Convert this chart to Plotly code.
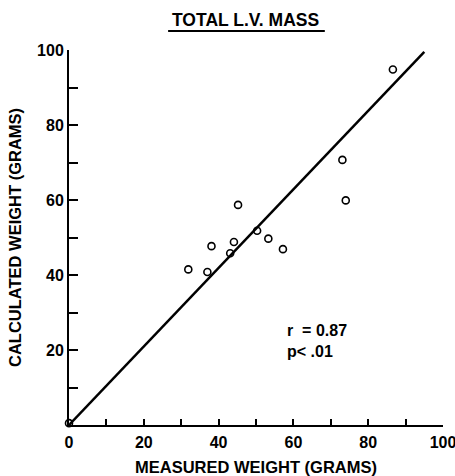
import plotly.graph_objects as go

# Data
measured = [0, 31.9, 37.0, 38.1, 43.1, 44.1, 45.2, 50.3, 53.3, 57.2, 73.1, 74.0, 86.6]
calculated = [0.5, 41.5, 40.8, 47.7, 45.8, 48.8, 58.7, 51.8, 49.7, 46.9, 70.7, 59.9, 94.8]
fit_x = [0, 95]
fit_y = [0, 99.5]
x_tick_vals = [0, 20, 40, 60, 80, 100]
y_tick_vals = [20, 40, 60, 80, 100]
minor_vals = [10, 30, 50, 70, 90]
title_text = "TOTAL L.V. MASS"
x_title = "MEASURED WEIGHT (GRAMS)"
y_title = "CALCULATED WEIGHT (GRAMS)"
stats_text = "r  = 0.87<br>p< .01"

FONT = "Arial, Liberation Sans, Helvetica, sans-serif"

fig = go.Figure()
fig.add_trace(go.Scatter(x=fit_x, y=fit_y, mode="lines",
                         line=dict(color="black", width=2.5),
                         hoverinfo="skip", cliponaxis=False))
fig.add_trace(go.Scatter(x=measured, y=calculated, mode="markers",
                         marker=dict(symbol="circle-open", size=7,
                                     color="black", line=dict(width=1.6)),
                         cliponaxis=False))

axis_common = dict(
    range=[0, 100],
    showgrid=False, zeroline=False,
    showline=True, linecolor="black", linewidth=2,
    ticks="inside", tickcolor="black", tickwidth=2,
    tickfont=dict(family=FONT, size=16, color="black", weight="bold"),
    fixedrange=True, automargin=False,
    ticklabeloverflow="allow",
)

fig.update_xaxes(**axis_common, ticklen=6,
                 tickvals=x_tick_vals + minor_vals,
                 ticktext=[str(v) for v in x_tick_vals] + [""] * len(minor_vals),
                 ticklabelstandoff=2,
                 title=dict(text="<b>" + x_title + "</b>", standoff=13,
                            font=dict(family=FONT, size=16.5, color="black")))
fig.update_yaxes(**axis_common, ticklen=9,
                 tickvals=y_tick_vals + minor_vals,
                 ticktext=[str(v) for v in y_tick_vals] + [""] * len(minor_vals),
                 title=dict(text="<b>" + y_title + "</b>", standoff=11,
                            font=dict(family=FONT, size=16.5, color="black")))

fig.add_annotation(x=0.473, y=1.079, xref="paper", yref="paper",
                   text="<b>" + title_text + "</b>", showarrow=False,
                   font=dict(family=FONT, size=17.5, color="black"),
                   xanchor="center", yanchor="middle")
fig.add_shape(type="line", xref="paper", yref="paper",
              x0=0.265, x1=0.684, y0=1.0507, y1=1.0507,
              line=dict(color="black", width=2))
fig.add_annotation(x=57.7, y=22.5, xref="x", yref="y",
                   text="<b>" + stats_text + "</b>", showarrow=False,
                   align="left", xanchor="left", yanchor="middle",
                   font=dict(family=FONT, size=16, color="black"))

fig.update_layout(
    width=455, height=476,
    margin=dict(l=68.5, r=11.5, t=50, b=51),
    paper_bgcolor="white", plot_bgcolor="white",
    showlegend=False,
)

fig.write_html("out.html",
               config={"displayModeBar": False},
               post_script="document.body.style.margin='0';"
                           "document.body.style.overflow='hidden';")
